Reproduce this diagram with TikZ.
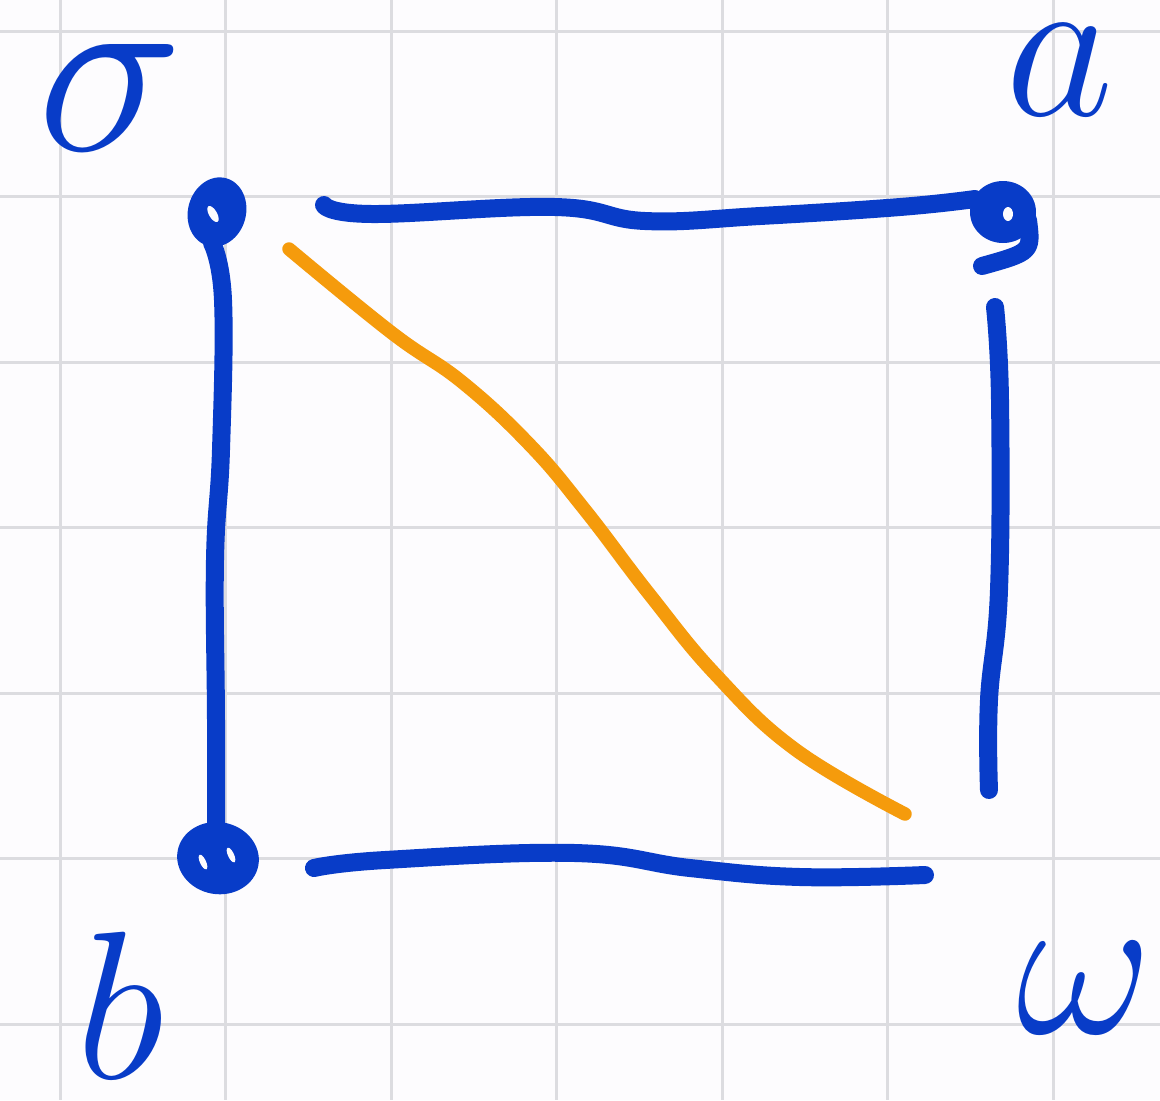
\RequirePackage{fix-cm}
\documentclass[tikz,border=0pt]{standalone}
\definecolor{inkblue}{RGB}{8,60,200}
\definecolor{inkorange}{RGB}{245,155,12}
\definecolor{paper}{RGB}{253,252,254}
\definecolor{gridgray}{RGB}{220,220,224}
\tikzset{
  bluestroke/.style={draw=inkblue, line width=0.36cm, line cap=round, line join=round},
  orangestroke/.style={draw=inkorange, line width=0.27cm, line cap=round, line join=round},
  gridline/.style={draw=gridgray, line width=0.06cm},
  lbl/.style={text=inkblue, inner sep=2pt}
}
\begin{document}
\begin{tikzpicture}[x=0.02cm, y=-0.02cm]
\fill[paper] (0,0) rectangle (1160,1100);
\useasboundingbox (0,0) rectangle (1160,1100);
% grid
\foreach \gx in {60,225.5,391,556.5,722,887.5,1053}
  \draw[gridline] (\gx,0) -- (\gx,1100);
\foreach \gy in {31,196.5,362,527.5,693,858.5,1024}
  \draw[gridline] (0,\gy) -- (1160,\gy);

% vertices (dots)
\coordinate (tl) at (217,212);
\coordinate (tr) at (1003,212);
\coordinate (bl) at (218,858);
\fill[inkblue, rotate around={-15:(tl)}] (tl) ellipse [x radius=0.58cm, y radius=0.7cm];
\fill[paper, rotate around={30:(213,214)}] (213,214) ellipse [x radius=0.08cm, y radius=0.18cm];

\fill[inkblue] (tr) ellipse [x radius=0.66cm, y radius=0.62cm];
\draw[bluestroke] (1028,220) .. controls (1032,252) .. (982,266);
\fill[paper] (1008,214) ellipse [x radius=0.1cm, y radius=0.14cm];

\fill[inkblue, rotate around={-10:(bl)}] (bl) ellipse [x radius=0.82cm, y radius=0.72cm];
\fill[paper, rotate around={25:(203,862)}] (203,862) ellipse [x radius=0.06cm, y radius=0.16cm];
\fill[paper, rotate around={25:(231,855)}] (231,855) ellipse [x radius=0.06cm, y radius=0.16cm];

% edge endpoints
\coordinate (topS) at (324,205);
\coordinate (topE) at (975,199);
\coordinate (leftS) at (212,243);
\coordinate (leftE) at (216,835);
\coordinate (rightS) at (995,307);
\coordinate (rightE) at (989,790);
\coordinate (botS) at (314,868);
\coordinate (botE) at (925,875);
\coordinate (diagS) at (289,249);
\coordinate (diagE) at (905,814);

% edges
\draw[bluestroke] plot[smooth, tension=0.7] coordinates {(topS) (372,214) (555,207) (645,221) (760,216) (900,207) (topE)};
\draw[bluestroke] plot[smooth, tension=0.7] coordinates {(leftS) (223,300) (221,450) (215,560) (216,720) (leftE)};
\draw[bluestroke] plot[smooth, tension=0.7] coordinates {(rightS) (1000,400) (999,590) (989,700) (rightE)};
\draw[bluestroke] plot[smooth, tension=0.7] coordinates {(botS) (385,860) (575,853) (690,868) (800,877) (botE)};
\draw[orangestroke] plot[smooth, tension=0.7] coordinates {(diagS) (392,333) (462,382) (530,445) (585,510) (650,595) (716,675) (796,750) (diagE)};

% labels
\node[lbl] (sigma) at (110,98) {\fontsize{140}{140}\selectfont$\sigma$};
\node[lbl] (alab) at (1060,70) {\fontsize{120}{120}\selectfont$a$};
\node[lbl] (blab) at (120,1005) {\fontsize{120}{120}\selectfont$b$};
\node[lbl] (omega) at (1085,988) {\fontsize{120}{120}\selectfont$\omega$};
\end{tikzpicture}
\end{document}
